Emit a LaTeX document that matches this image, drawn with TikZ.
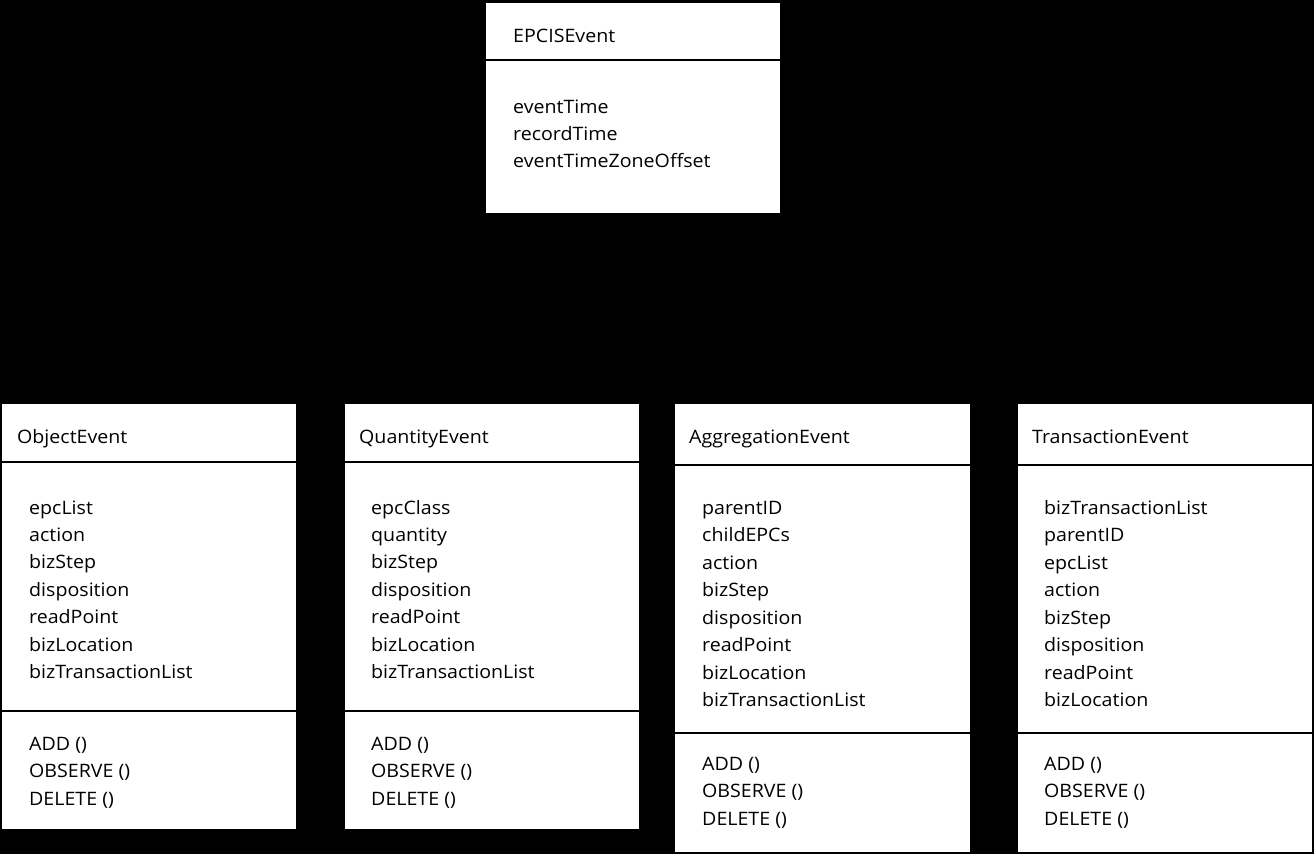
\documentclass[tikz,border=0pt]{standalone}
\usepackage{fontspec}
\setmainfont{Open Sans}[FakeStretch=1.06]
\begin{document}
\begin{tikzpicture}[x=1pt,y=-1pt,
  box/.style={fill=white,draw=none,inner sep=0pt,anchor=north west},
  divider/.style={draw=black,line width=2pt},
  txt/.style={anchor=base west,inner sep=0pt,font=\fontsize{18.5}{22}\selectfont,text=black}]
\fill[black] (0,0) rectangle (1314,854);
\useasboundingbox (0,0) rectangle (1314,854);
% EPCISEvent
\node[box,minimum width=294pt,minimum height=210pt] (epcis) at (486,3) {};
\draw[divider] (486,60) -- (780,60);
\node[txt] (epcisT) at (513,42) {EPCISEvent};
\foreach[count=\k] \t in {eventTime,recordTime,eventTimeZoneOffset}
  \node[txt] (epcisA\k) at (513,{113+27.3*(\k-1)}) {\t};
% ObjectEvent
\node[box,minimum width=294pt,minimum height=425pt] (obj) at (2,404) {};
\draw[divider] (2,462) -- (296,462);
\draw[divider] (2,711) -- (296,711);
\node[txt] (objT) at (17,443) {ObjectEvent};
\foreach[count=\k] \t in {epcList,action,bizStep,disposition,readPoint,bizLocation,bizTransactionList}
  \node[txt] (objA\k) at (29,{514+27.4*(\k-1)}) {\t};
\foreach[count=\k] \t in {ADD (),OBSERVE (),DELETE ()}
  \node[txt] (objM\k) at (29,{750.5+27.4*(\k-1)}) {\t};
% QuantityEvent
\node[box,minimum width=294pt,minimum height=425pt] (qty) at (345,404) {};
\draw[divider] (345,462) -- (639,462);
\draw[divider] (345,711) -- (639,711);
\node[txt] (qtyT) at (359,443) {QuantityEvent};
\foreach[count=\k] \t in {epcClass,quantity,bizStep,disposition,readPoint,bizLocation,bizTransactionList}
  \node[txt] (qtyA\k) at (371,{514+27.4*(\k-1)}) {\t};
\foreach[count=\k] \t in {ADD (),OBSERVE (),DELETE ()}
  \node[txt] (qtyM\k) at (371,{750.5+27.4*(\k-1)}) {\t};
% AggregationEvent
\node[box,minimum width=295pt,minimum height=448pt] (agg) at (675,404) {};
\draw[divider] (675,465) -- (970,465);
\draw[divider] (675,733) -- (970,733);
\node[txt] (aggT) at (689,443) {AggregationEvent};
\foreach[count=\k] \t in {parentID,childEPCs,action,bizStep,disposition,readPoint,bizLocation,bizTransactionList}
  \node[txt] (aggA\k) at (702,{514+27.5*(\k-1)}) {\t};
\foreach[count=\k] \t in {ADD (),OBSERVE (),DELETE ()}
  \node[txt] (aggM\k) at (702,{770.5+27.4*(\k-1)}) {\t};
% TransactionEvent
\node[box,minimum width=294pt,minimum height=448pt] (trx) at (1018,404) {};
\draw[divider] (1018,465) -- (1312,465);
\draw[divider] (1018,733) -- (1312,733);
\node[txt] (trxT) at (1032,443) {TransactionEvent};
\foreach[count=\k] \t in {bizTransactionList,parentID,epcList,action,bizStep,disposition,readPoint,bizLocation}
  \node[txt] (trxA\k) at (1044,{514+27.5*(\k-1)}) {\t};
\foreach[count=\k] \t in {ADD (),OBSERVE (),DELETE ()}
  \node[txt] (trxM\k) at (1044,{770.5+27.4*(\k-1)}) {\t};
\end{tikzpicture}
\end{document}
